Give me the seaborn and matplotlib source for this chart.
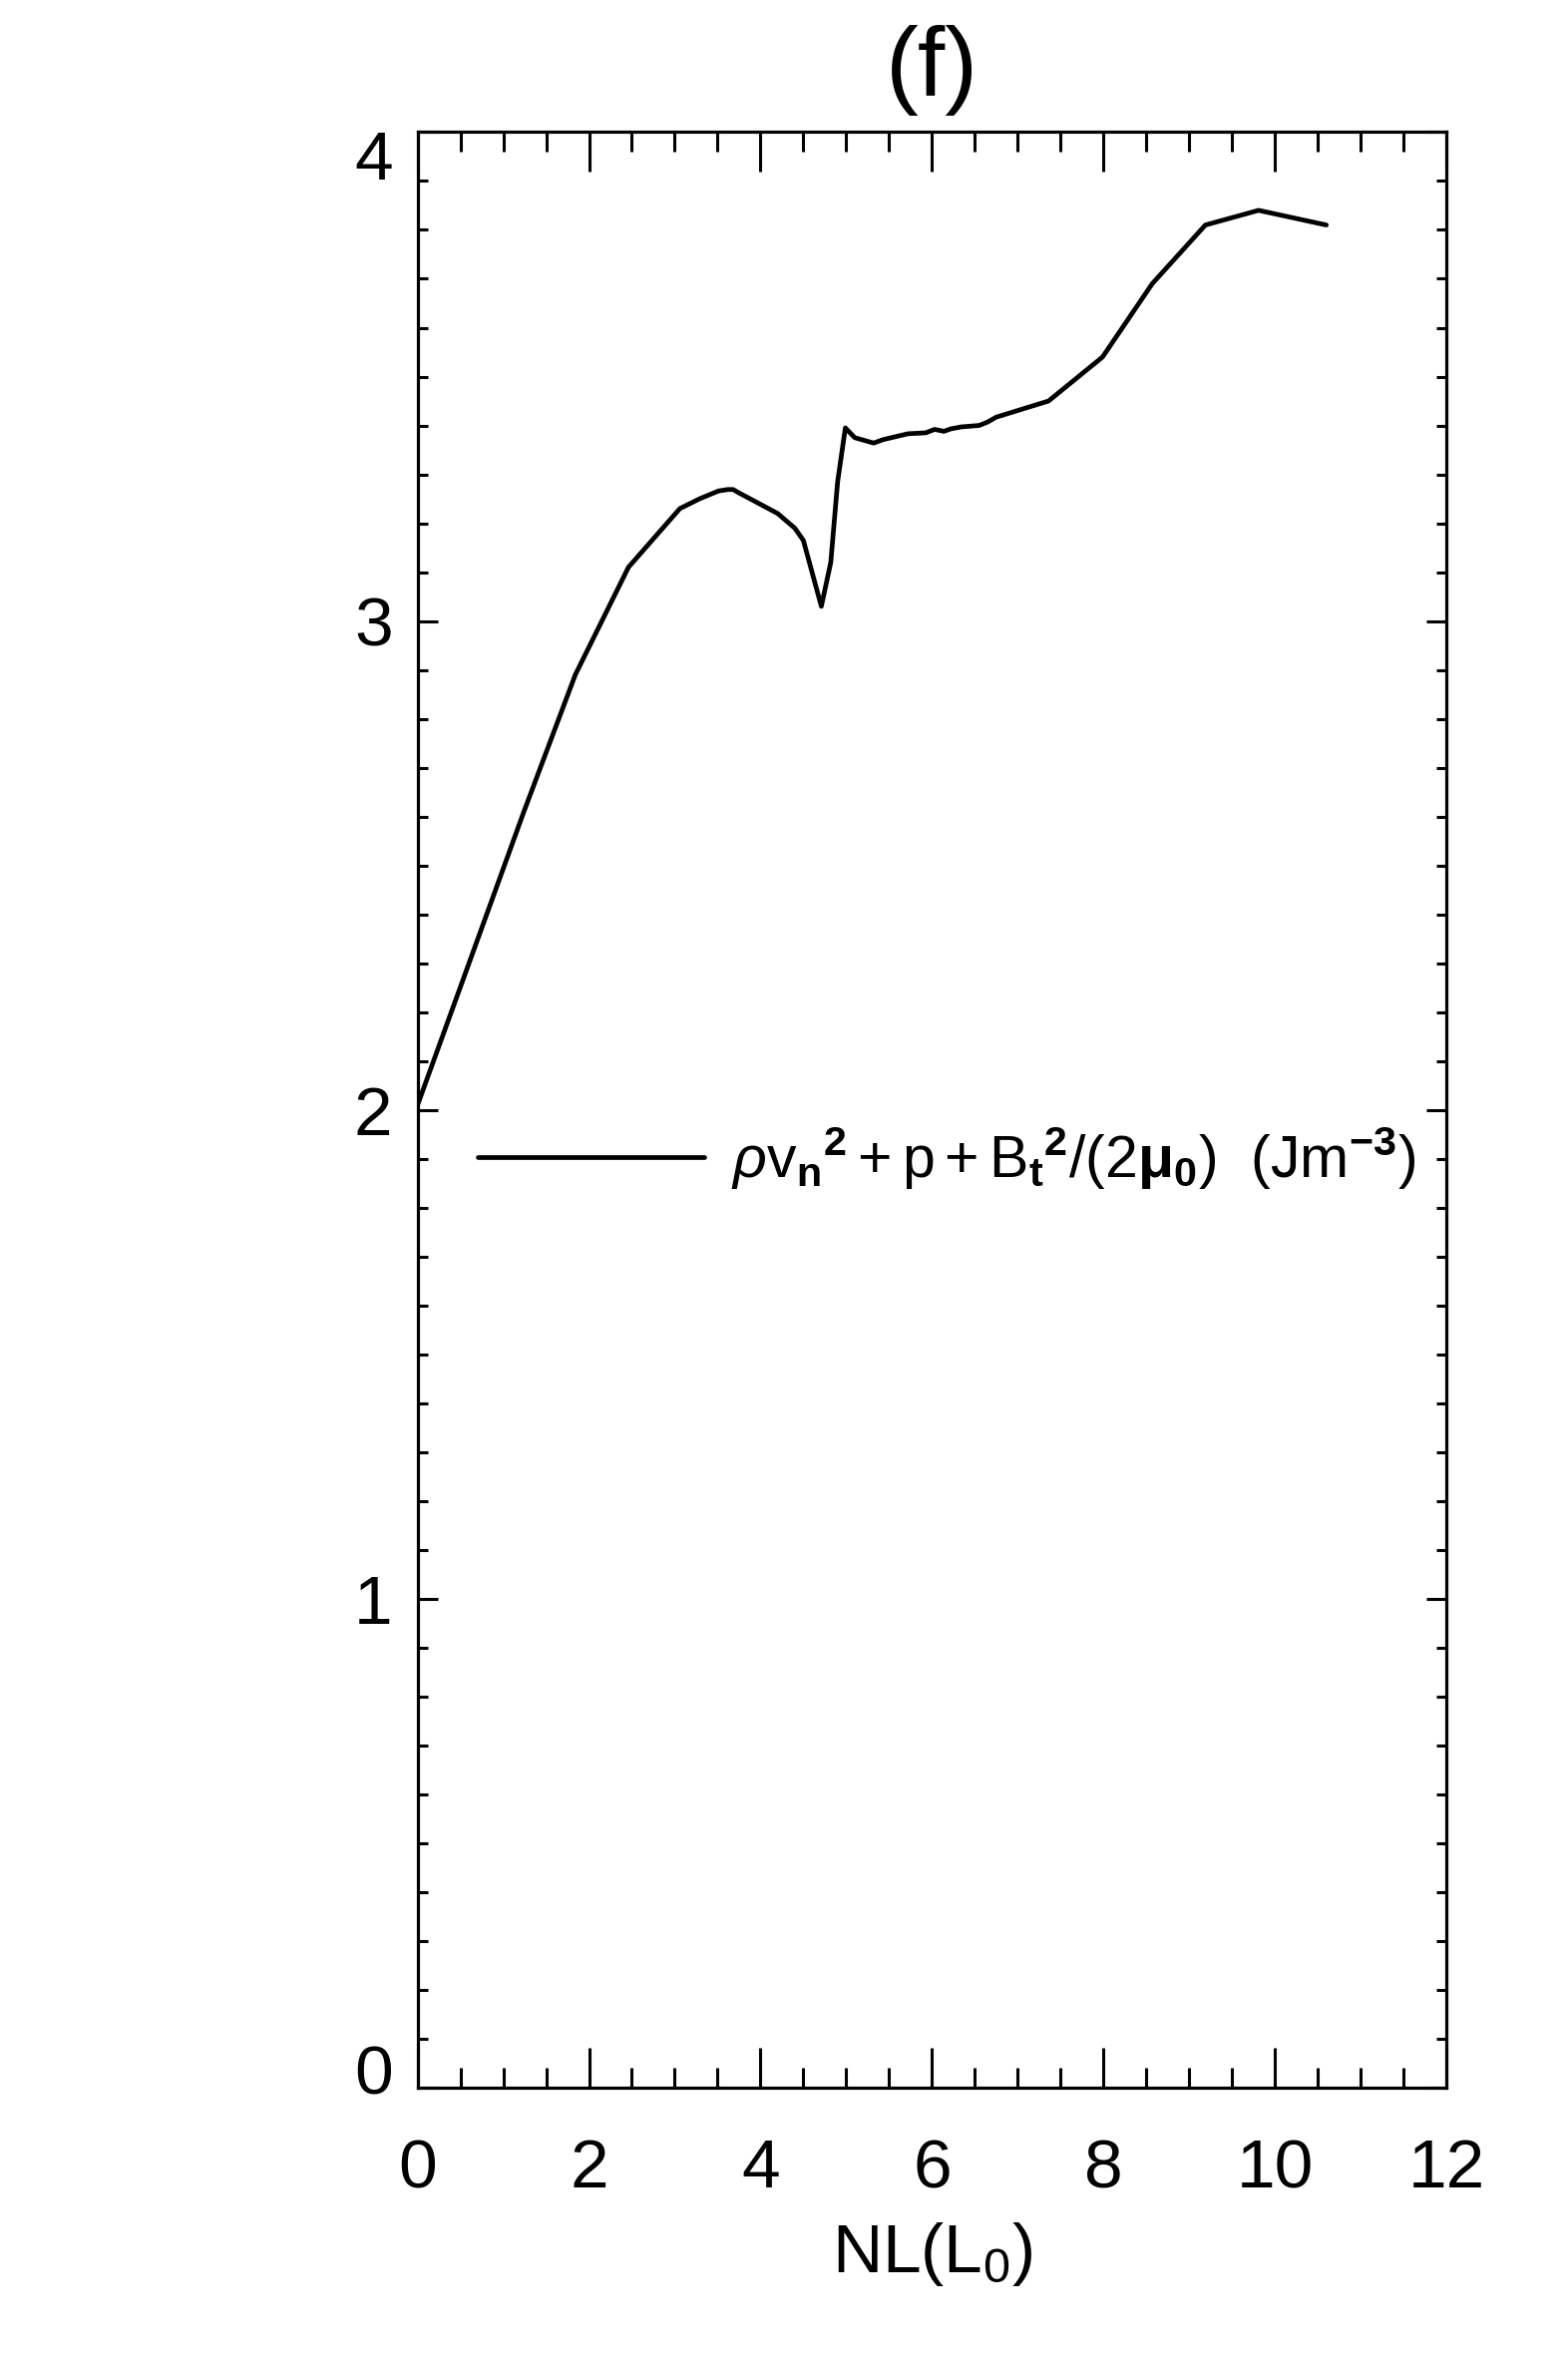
"""
Panel (f): total pressure along the normal vs NL(L0)
"""
import matplotlib
matplotlib.use('Agg')
import matplotlib.pyplot as plt
import matplotlib.transforms as mtransforms
from matplotlib.ticker import MultipleLocator
import pandas as pd
import seaborn as sns

# values
nl = [0.00, 0.60, 1.24, 1.84, 2.46, 3.06, 3.29, 3.51, 3.62, 3.68, 3.75,
      4.20, 4.40, 4.50, 4.71, 4.82, 4.90, 4.99, 5.10, 5.32, 5.43, 5.72,
      5.93, 6.03, 6.14, 6.22, 6.34, 6.55, 6.65, 6.75, 7.36, 7.99, 8.57,
      9.19, 9.81, 10.60]
pressure = [2.01, 2.30, 2.61, 2.89, 3.11, 3.23, 3.25, 3.266, 3.269, 3.269, 3.262,
            3.22, 3.19, 3.165, 3.03, 3.12, 3.285, 3.395, 3.375, 3.364, 3.371, 3.383,
            3.385, 3.392, 3.388, 3.393, 3.397, 3.40, 3.407, 3.417, 3.45, 3.54, 3.69,
            3.81, 3.84, 3.81]

x_ticks = [0, 2, 4, 6, 8, 10, 12]
y_ticks = [0, 1, 2, 3, 4]
legend_label = (r'$\rho\mathrm{v}_\mathbf{n}{}^\mathbf{2}+\mathrm{p}+\mathrm{B}_\mathbf{t}{}^\mathbf{2}'
                r'/(2\mathbf{\mu}_\mathbf{0})\ \ (\mathrm{Jm}^{\mathbf{-3}})$')

df = pd.DataFrame({'nl': nl, 'p': pressure})

sns.set_style('ticks')
plt.rcParams['font.family'] = ['Liberation Sans Narrow', 'Liberation Sans', 'DejaVu Sans']
plt.rcParams['mathtext.fontset'] = 'custom'
plt.rcParams['mathtext.rm'] = 'Liberation Sans'
plt.rcParams['mathtext.it'] = 'Liberation Sans:italic'
plt.rcParams['mathtext.bf'] = 'Liberation Sans:bold'
for key in ['text.color', 'axes.labelcolor', 'xtick.color', 'ytick.color', 'axes.edgecolor']:
    plt.rcParams[key] = 'black'

fig = plt.figure(figsize=(15.72, 23.61), dpi=100)
ax = fig.add_axes([0.2663, 0.1135, 0.6561, 0.8304])

sns.lineplot(data=df, x='nl', y='p', ax=ax, color='black', linewidth=3.4,
             label=legend_label, sort=False)

ax.set_xlim(0, 12)
ax.set_ylim(0, 4)
ax.set_xticks(x_ticks)
ax.set_yticks(y_ticks)
ax.xaxis.set_minor_locator(MultipleLocator(0.5))
ax.yaxis.set_minor_locator(MultipleLocator(0.1))

for s in ax.spines.values():
    s.set_linewidth(2.3)
    s.set_color('black')

ax.tick_params(axis='both', which='both', direction='in', top=True, right=True,
               width=2.2, color='black', labelcolor='black')
ax.tick_params(axis='x', which='major', length=29, pad=36, labelsize=50)
ax.tick_params(axis='x', which='minor', length=14.5)
ax.tick_params(axis='y', which='major', length=14.5, pad=18, labelsize=50)
ax.tick_params(axis='y', which='minor', length=7.2)

ax.set_title('(f)', fontsize=71, pad=26)
ax.set_xlabel('NL(L$_0$)', fontsize=50, labelpad=14)
ax.set_ylabel('')

# IDL keeps the end labels inside the axis range
ticks = ax.yaxis.get_major_ticks()
ticks[0].label1.set_transform(ticks[0].label1.get_transform() +
                              mtransforms.ScaledTranslation(0, 13 / 72, fig.dpi_scale_trans))
ticks[-1].label1.set_transform(ticks[-1].label1.get_transform() +
                               mtransforms.ScaledTranslation(0, -16 / 72, fig.dpi_scale_trans))

ax.legend(loc='center left', bbox_to_anchor=(0.0586, 0.4754), frameon=False,
          fontsize=42.5, handlelength=3.85, handletextpad=0.45, borderpad=0,
          borderaxespad=0)

plt.savefig('out.png', dpi=100)
